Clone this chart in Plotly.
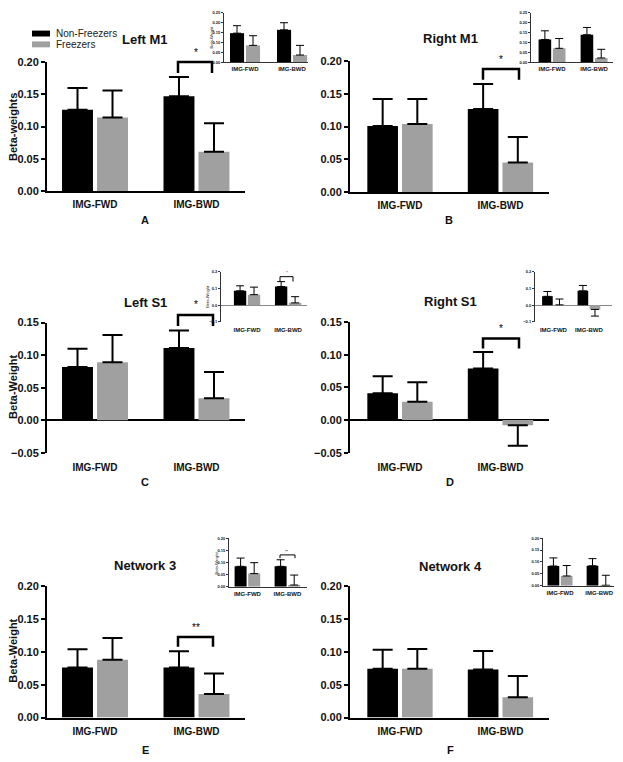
import plotly.graph_objects as go

W, H = 623, 762
OFF = 0
FONT = "Liberation Sans"

categories = ["IMG-FWD", "IMG-BWD"]
series_names = ["Non-Freezers", "Freezers"]

# ---- main panels: values (mean) and SEM (error) ----
A_nf = [0.126, 0.147]; A_nf_err = [0.034, 0.030]
A_fr = [0.114, 0.061]; A_fr_err = [0.042, 0.044]
B_nf = [0.101, 0.127]; B_nf_err = [0.041, 0.038]
B_fr = [0.104, 0.045]; B_fr_err = [0.038, 0.039]
C_nf = [0.082, 0.111]; C_nf_err = [0.028, 0.027]
C_fr = [0.089, 0.034]; C_fr_err = [0.042, 0.040]
D_nf = [0.041, 0.079]; D_nf_err = [0.026, 0.025]
D_fr = [0.028, -0.008]; D_fr_err = [0.030, 0.031]
E_nf = [0.076, 0.076]; E_nf_err = [0.028, 0.025]
E_fr = [0.088, 0.036]; E_fr_err = [0.033, 0.031]
F_nf = [0.074, 0.073]; F_nf_err = [0.029, 0.028]
F_fr = [0.074, 0.031]; F_fr_err = [0.030, 0.032]

# ---- inset panels ----
iA_nf = [0.147, 0.164]; iA_nf_err = [0.038, 0.036]
iA_fr = [0.085, 0.036]; iA_fr_err = [0.049, 0.049]
iB_nf = [0.115, 0.139]; iB_nf_err = [0.044, 0.037]
iB_fr = [0.070, 0.021]; iB_fr_err = [0.050, 0.044]
iC_nf = [0.086, 0.112]; iC_nf_err = [0.030, 0.029]
iC_fr = [0.063, 0.014]; iC_fr_err = [0.045, 0.037]
iD_nf = [0.053, 0.086]; iD_nf_err = [0.029, 0.032]
iD_fr = [0.002, -0.025]; iD_fr_err = [0.035, 0.040]
iE_nf = [0.084, 0.084]; iE_nf_err = [0.034, 0.027]
iE_fr = [0.054, 0.007]; iE_fr_err = [0.045, 0.041]
iF_nf = [0.083, 0.084]; iF_nf_err = [0.034, 0.030]
iF_fr = [0.041, 0.002]; iF_fr_err = [0.044, 0.042]

titles = ["Left M1", "Right M1", "Left S1", "Right S1", "Network 3", "Network 4"]
letters = ["A", "B", "C", "D", "E", "F"]
ytitles = ["Beta-weights", "", "Beta-Weight", "", "Beta-Weight", ""]

BLACK = "#000000"
GRAY = "#a0a0a0"


def px(x):
    return (x - OFF) / W


def py(y):
    return 1 - (y - OFF) / H


panels = [
    dict(nf=A_nf, nfe=A_nf_err, fr=A_fr, fre=A_fr_err, xd=(47, 245), yd=(57, 188), xr=(-0.473, 1.478), yr=(0, 0.2), dt=0.05, fmt=".2f", inset=False),
    dict(nf=B_nf, nfe=B_nf_err, fr=B_fr, fre=B_fr_err, xd=(350, 549), yd=(56, 189), xr=(-0.4975, 1.483), yr=(0, 0.2), dt=0.05, fmt=".2f", inset=False),
    dict(nf=C_nf, nfe=C_nf_err, fr=C_fr, fre=C_fr_err, xd=(47, 245), yd=(321.7, 454), xr=(-0.473, 1.478), yr=(-0.05, 0.15), dt=0.05, fmt=".2f", inset=False),
    dict(nf=D_nf, nfe=D_nf_err, fr=D_fr, fre=D_fr_err, xd=(350, 549), yd=(321, 454), xr=(-0.4975, 1.483), yr=(-0.05, 0.15), dt=0.05, fmt=".2f", inset=False),
    dict(nf=E_nf, nfe=E_nf_err, fr=E_fr, fre=E_fr_err, xd=(47, 245), yd=(589.3, 723), xr=(-0.473, 1.478), yr=(0, 0.2), dt=0.05, fmt=".2f", inset=False),
    dict(nf=F_nf, nfe=F_nf_err, fr=F_fr, fre=F_fr_err, xd=(350, 549), yd=(589, 723), xr=(-0.4975, 1.483), yr=(0, 0.2), dt=0.05, fmt=".2f", inset=False),
    dict(nf=iA_nf, nfe=iA_nf_err, fr=iA_fr, fre=iA_fr_err, xd=(224, 308), yd=(7, 57), xr=(-0.447, 1.34), yr=(0, 0.25), dt=0.05, fmt=".2f", inset=True, yt="Beta-Weight"),
    dict(nf=iB_nf, nfe=iB_nf_err, fr=iB_fr, fre=iB_fr_err, xd=(531, 613), yd=(7, 57), xr=(-0.5, 1.45), yr=(0, 0.25), dt=0.05, fmt=".2f", inset=True, yt=""),
    dict(nf=iC_nf, nfe=iC_nf_err, fr=iC_fr, fre=iC_fr_err, xd=(221, 307), yd=(270, 321), xr=(-0.634, 1.46), yr=(-0.1, 0.2), dt=0.1, fmt=".1f", inset=True, yt="Beta-Weight"),
    dict(nf=iD_nf, nfe=iD_nf_err, fr=iD_fr, fre=iD_fr_err, xd=(535, 612), yd=(270, 321), xr=(-0.52, 1.65), yr=(-0.1, 0.2), dt=0.1, fmt=".1f", inset=True, yt=""),
    dict(nf=iE_nf, nfe=iE_nf_err, fr=iE_fr, fre=iE_fr_err, xd=(229, 307), yd=(540.7, 590), xr=(-0.46, 1.49), yr=(0, 0.2), dt=0.05, fmt=".2f", inset=True, yt="Beta-Weight"),
    dict(nf=iF_nf, nfe=iF_nf_err, fr=iF_fr, fre=iF_fr_err, xd=(543, 614), yd=(540.7, 589), xr=(-0.436, 1.38), yr=(0, 0.2), dt=0.05, fmt=".2f", inset=True, yt=""),
]


def err_dict(vals, errs, inset):
    up = [e if v >= 0 else 0 for v, e in zip(vals, errs)]
    dn = [0 if v >= 0 else e for v, e in zip(vals, errs)]
    return dict(type="data", symmetric=False, array=up, arrayminus=dn,
                color=BLACK, thickness=1 if inset else 2, width=4 if inset else 10)


def ann(x, y, text, size, bold=False, color="#111", angle=0, xanchor="center"):
    f = dict(family=FONT, size=size, color=color)
    if bold:
        f["weight"] = "bold"
    return dict(x=px(x), y=py(y), xref="paper", yref="paper", text=text, showarrow=False,
                xanchor=xanchor, yanchor="middle", textangle=angle, font=f)


fig = go.Figure()
layout = dict(
    width=W, height=H, margin=dict(l=0, r=0, t=0, b=0, pad=0),
    paper_bgcolor="white", plot_bgcolor="white",
    showlegend=False, barmode="overlay",
    font=dict(family=FONT, color=BLACK),
)
annotations = []
shapes = []

for i, p in enumerate(panels):
    n = i + 1
    xa = "x" if n == 1 else f"x{n}"
    ya = "y" if n == 1 else f"y{n}"
    inset = p["inset"]
    if inset:
        bw, off_nf, off_fr = 0.3, -0.32, 0.02
    else:
        bw, off_nf, off_fr = 0.305, -0.325, 0.02
    fig.add_trace(go.Bar(x=categories, y=p["nf"], name=series_names[0], marker=dict(color=BLACK, line=dict(width=0)),
                         width=bw, offset=off_nf, error_y=err_dict(p["nf"], p["nfe"], inset), xaxis=xa, yaxis=ya))
    fig.add_trace(go.Bar(x=categories, y=p["fr"], name=series_names[1], marker=dict(color=GRAY, line=dict(width=0)),
                         width=bw, offset=off_fr, error_y=err_dict(p["fr"], p["fre"], inset), xaxis=xa, yaxis=ya))

    negative = p["yr"][0] < 0
    lw = 1 if inset else 2
    axcol = "#333333" if inset else BLACK
    xkey = "xaxis" if n == 1 else f"xaxis{n}"
    ykey = "yaxis" if n == 1 else f"yaxis{n}"
    layout[xkey] = dict(
        domain=[px(p["xd"][0]), px(p["xd"][1])], anchor=ya, type="category",
        range=list(p["xr"]), showgrid=False, zeroline=False,
        showline=not negative, linecolor=axcol, linewidth=lw,
        ticks="outside", ticklen=(1 if inset else 3) if not negative else (2 if inset else 5), tickcolor="rgba(0,0,0,0)",
        tickfont=dict(family=FONT, size=6 if inset else 10, weight="bold", color="#111"),
        fixedrange=True,
    )
    layout[ykey] = dict(
        domain=[py(p["yd"][1]), py(p["yd"][0])], anchor=xa,
        range=list(p["yr"]), dtick=p["dt"], tick0=0, tickformat=p["fmt"],
        showgrid=False, showline=True, linecolor=axcol, linewidth=lw,
        ticks="outside", ticklen=2 if inset else 4, tickwidth=1 if inset else 1.5, tickcolor=axcol,
        tickfont=dict(family=FONT, size=4 if inset else 11, weight="bold", color="#111"),
        zeroline=negative, zerolinecolor="#888888" if inset else BLACK, zerolinewidth=1 if inset else 2,
        fixedrange=True,
    )
    if inset and p.get("yt"):
        annotations.append(ann(p["xd"][0] - 13, (p["yd"][0] + p["yd"][1]) / 2, p["yt"], 4, color="#222", angle=-90))

title_pos = [(145, 34), (450, 33), (145, 301), (450, 300), (145, 568), (450, 569)]
letter_pos = [(145, 217), (449, 217), (145, 484), (450, 484), (145, 756), (450, 756)]
ytitle_pos = [(13, 123), None, (13, 387), None, (13, 655), None]
for k in range(6):
    annotations.append(ann(*title_pos[k], titles[k], 13, bold=True))
    annotations.append(ann(*letter_pos[k], letters[k], 11, bold=True))
    if ytitle_pos[k] and ytitles[k]:
        annotations.append(ann(*ytitle_pos[k], ytitles[k], 11, bold=True, angle=-90))

# significance brackets
brackets = [
    (178, 212, 57, 68, "*", 196, 47, 2.5, 10),
    (483, 519, 64, 75, "*", 501, 54, 2.5, 10),
    (178, 213, 314, 325, "*", 196, 303, 2.5, 10),
    (483, 519, 337.7, 348, "*", 501, 328, 2.5, 10),
    (178, 213, 641, 651, "**", 196, 631, 2.5, 10),
    (280, 293, 275, 280, "*", 287, 271, 1, 4),
    (280, 295, 557.7, 561, "**", 287, 554, 1, 4),
]
for x0, x1, yt, yb, lab, lx, ly, w, fs in brackets:
    path = f"M {px(x0)},{py(yb)} L {px(x0)},{py(yt)} L {px(x1)},{py(yt)} L {px(x1)},{py(yb)}"
    shapes.append(dict(type="path", xref="paper", yref="paper", path=path,
                       line=dict(color=BLACK, width=w)))
    annotations.append(ann(lx, ly, lab, fs, color="#000"))

# legend (drawn manually)
shapes.append(dict(type="rect", xref="paper", yref="paper", x0=px(32), x1=px(50), y0=py(31), y1=py(25),
                   fillcolor=BLACK, line=dict(width=0)))
shapes.append(dict(type="rect", xref="paper", yref="paper", x0=px(32), x1=px(50), y0=py(42), y1=py(36),
                   fillcolor=GRAY, line=dict(width=0)))
annotations.append(ann(54, 27.5, series_names[0], 10, color="#222", xanchor="left"))
annotations.append(ann(54, 39.5, series_names[1], 10, color="#222", xanchor="left"))

layout["annotations"] = annotations
layout["shapes"] = shapes
fig.update_layout(**layout)
fig.write_html("out.html", config={"displayModeBar": False},
               post_script="document.body.style.margin='0';document.documentElement.style.overflow='hidden';")
